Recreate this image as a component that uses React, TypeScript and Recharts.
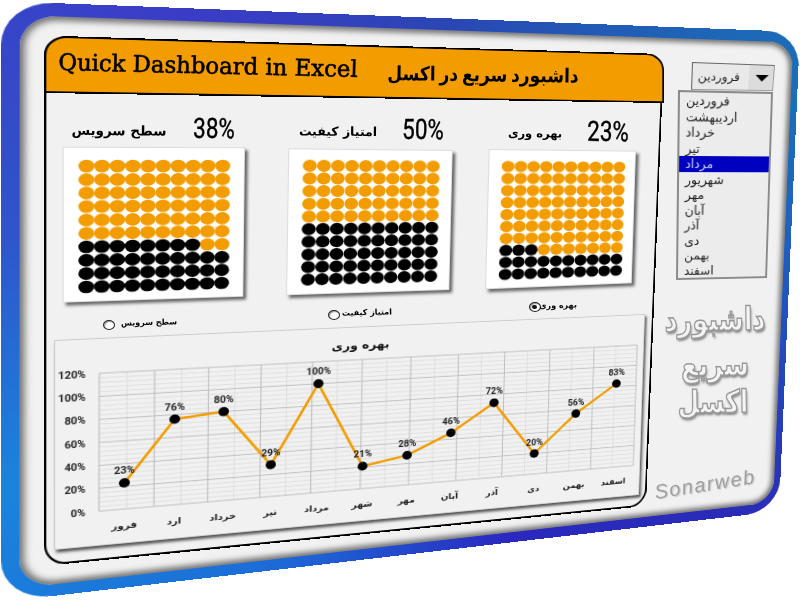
import React from "react";
import { LineChart, Line, XAxis, YAxis, ReferenceLine, LabelList, ScatterChart, Scatter } from "recharts";

const axisMonths = ["فرور", "ارد", "خرداد", "تیر", "مرداد", "شهر", "مهر", "آبان", "آذر", "دی", "بهمن", "اسفند"];
const productivity = [23, 76, 80, 29, 100, 21, 28, 46, 72, 20, 56, 83];
const yTicks = [0, 20, 40, 60, 80, 100, 120];
const minorY = [4, 8, 12, 16, 24, 28, 32, 36, 44, 48, 52, 56, 64, 68, 72, 76, 84, 88, 92, 96, 104, 108, 112, 116];
const majorX = [0, 1, 2, 3, 4, 5, 6, 7, 8, 9, 10, 11, 12];
const minorX = [0.5, 1.5, 2.5, 3.5, 4.5, 5.5, 6.5, 7.5, 8.5, 9.5, 10.5, 11.5];
const listMonths = ["فروردین", "اردیبهشت", "خرداد", "تیر", "مرداد", "شهریور", "مهر", "آبان", "آذر", "دی", "بهمن", "اسفند"];
const servicePct = 38;
const qualityPct = 50;
const productivityPct = 23;

const ORANGE = "#f39c00";
const FONT = "Roboto, 'DejaVu Sans', sans-serif";
const AR = "'DejaVu Sans', sans-serif";
type P = [number, number];

function matrix(w: number, h: number, q: P[]) {
  const [[x0, y0], [x1, y1], [x2, y2], [x3, y3]] = q;
  const dx1 = x1 - x2, dx2 = x3 - x2, sx = x0 - x1 + x2 - x3;
  const dy1 = y1 - y2, dy2 = y3 - y2, sy = y0 - y1 + y2 - y3;
  const det = dx1 * dy2 - dx2 * dy1;
  const g = (sx * dy2 - dx2 * sy) / det;
  const k = (dx1 * sy - sx * dy1) / det;
  const a = x1 - x0 + g * x1, b = x3 - x0 + k * x3;
  const d = y1 - y0 + g * y1, e = y3 - y0 + k * y3;
  return `matrix3d(${a / w},${d / w},0,${g / w},${b / h},${e / h},0,${k / h},0,0,1,0,${x0},${y0},0,1)`;
}

function Warp({ w, h, q, style, children }: any) {
  return (
    <div style={{ position: "absolute", left: 0, top: 0, width: w, height: h, boxSizing: "border-box", transformOrigin: "0 0", transform: matrix(w, h, q), ...style }}>
      {children}
    </div>
  );
}

function Txt({ x, y, size, rot = 0, sx = 1, sy = 1, font = AR, weight = 700, color = "#000", style, children }: any) {
  return (
    <div style={{ position: "absolute", left: x, top: y, whiteSpace: "nowrap", fontFamily: font, fontSize: size, fontWeight: weight, color, lineHeight: 1, transform: `translate(-50%,-50%) rotate(${rot}deg) scale(${sx},${sy})`, ...style }}>
      {children}
    </div>
  );
}

function waffleCells(pct: number, filled: boolean) {
  const out: { c: number; r: number }[] = [];
  for (let r = 0; r < 10; r++) for (let c = 0; c < 10; c++) {
    if ((r * 10 + c + 1 <= pct) === filled) out.push({ c, r });
  }
  return out;
}

function Waffle({ w, h, q, pct, margin, rx, ry }: any) {
  const dot = (fill: string) => (p: any) => <ellipse cx={p.cx} cy={p.cy} rx={rx} ry={ry} fill={fill} />;
  return (
    <Warp w={w} h={h} q={q} style={{ background: "#fff", boxShadow: "3px 3px 3px #666", border: "1px solid #ddd" }}>
      <ScatterChart width={w - 2} height={h - 2} margin={margin}>
        <XAxis type="number" dataKey="c" domain={[0, 9]} hide />
        <YAxis type="number" dataKey="r" domain={[0, 9]} hide width={0} />
        <Scatter data={waffleCells(pct, false)} fill={ORANGE} shape={dot(ORANGE)} isAnimationActive={false} />
        <Scatter data={waffleCells(pct, true)} fill="#000" shape={dot("#000")} isAnimationActive={false} />
      </ScatterChart>
    </Warp>
  );
}

function Radio({ x, y, on }: any) {
  return (
    <div style={{ position: "absolute", left: x - 6, top: y - 5, width: 12, height: 10, borderRadius: "50%", border: "1.3px solid #222", boxSizing: "border-box", background: "#fff", boxShadow: "inset 1px 1px 1px #999" }}>
      {on && <div style={{ position: "absolute", left: 2.4, top: 1.6, width: 5, height: 4.5, borderRadius: "50%", background: "#111" }} />}
    </div>
  );
}

const lineData = axisMonths.map((m, i) => ({ month: m, value: productivity[i] }));

function ProductivityChart() {
  const w = 600, h = 220;
  const ids = { xAxisId: "grid", yAxisId: "v" };
  return (
    <Warp w={w} h={h} q={[[54, 340], [645, 314], [639, 495], [54, 550]]} style={{ background: "#f1f1f1", boxShadow: "2px 3px 3px #555", border: "1px solid #ccc" }}>
      <div style={{ position: "absolute", left: 0, right: 22, top: 12, textAlign: "center", fontFamily: AR, fontWeight: 700, fontSize: 12.5, color: "#111" }}>بهره وری</div>
      <LineChart width={w - 2} height={h - 2} data={lineData} margin={{ top: 36, right: 7, bottom: 0, left: 0 }}>
        <XAxis xAxisId="grid" type="number" domain={[0, 12]} hide />
        <XAxis xAxisId="cat" dataKey="month" scale="band" interval={0} height={36} axisLine={false} tickLine={false} tickMargin={8}
          tick={{ fontFamily: AR, fontWeight: 700, fontSize: 9.5, fill: "#222" }} />
        <YAxis yAxisId="v" domain={[0, 120]} ticks={yTicks} width={39} axisLine={false} tickLine={false} tickMargin={6}
          tickFormatter={(v: number) => `${v}%`} tick={{ fontFamily: FONT, fontWeight: 700, fontSize: 10, fill: "#222" }} />
        {minorY.map((v) => <ReferenceLine key={`my${v}`} {...ids} y={v} stroke="#dadada" strokeWidth={0.8} />)}
        {minorX.map((v) => <ReferenceLine key={`mx${v}`} {...ids} x={v} stroke="#dadada" strokeWidth={0.8} />)}
        {yTicks.map((v) => <ReferenceLine key={`y${v}`} {...ids} y={v} stroke="#bcbcbc" strokeWidth={1} />)}
        {majorX.map((v) => <ReferenceLine key={`x${v}`} {...ids} x={v} stroke="#bcbcbc" strokeWidth={1} />)}
        <Line xAxisId="cat" yAxisId="v" dataKey="value" stroke={ORANGE} strokeWidth={2.6} isAnimationActive={false}
          dot={{ r: 5, fill: "#000", stroke: "#000", strokeWidth: 0 }}>
          <LabelList dataKey="value" position="top" offset={10} formatter={(v: number) => `${v}%`}
            style={{ fontFamily: FONT, fontWeight: 700, fontSize: 10, fill: "#222" }} />
        </Line>
      </LineChart>
    </Warp>
  );
}

export default function App() {
  return (
    <div style={{ position: "absolute", left: 0, top: 0, width: 800, height: 600, overflow: "hidden", background: "#fff", filter: "blur(0.3px)" }}>
      {/* outer frame */}
      <Warp w={800} h={600} q={[[1, 1], [800, 32], [779, 511], [1, 602]]}
        style={{ borderRadius: 42, background: "conic-gradient(from 0deg at 50% 50%, #2a46b4 0deg, #1a70b8 60deg, #1f5fc0 85deg, #2a2cb8 130deg, #2a28c0 165deg, #1c6cd8 210deg, #1a84dc 245deg, #2f55cc 280deg, #3b3cc6 320deg, #2a46b4 360deg)" }}>
        <div style={{ position: "absolute", left: 15, top: 13, right: 8, bottom: 12, borderRadius: 30, background: "#f1f1f1", boxShadow: "inset 0 0 6px 4px #707070" }} />
      </Warp>

      {/* main panel */}
      <Warp w={620} h={500} q={[[44, 35.5], [664, 54], [646, 506], [44, 566]]}
        style={{ border: "2px solid #000", borderRadius: 20, background: "#f1f1f1" }} />
      <Warp w={620} h={60} q={[[44, 35.5], [664, 54], [664, 103], [44, 93]]}
        style={{ border: "2px solid #000", borderRadius: "20px 20px 0 0", background: ORANGE }} />
      <Txt x={208} y={66} size={23} sx={0.99} font="'DejaVu Serif', serif" rot={1.3} weight={400} style={{ WebkitTextStroke: "0.6px #000" }}>Quick Dashboard in Excel</Txt>
      <Txt x={483} y={75} size={17} sy={1.15} rot={0.8} style={{ wordSpacing: -2 }}>داشبورد سریع در اکسل</Txt>

      {/* KPI headers */}
      <Txt x={214} y={129} size={28} sx={0.8} font={FONT} weight={400} rot={1} style={{ WebkitTextStroke: "0.4px #000" }}>{servicePct}%</Txt>
      <Txt x={119} y={131} size={13.5} rot={0.5}>سطح سرویس</Txt>
      <Txt x={423} y={130} size={28} sx={0.8} font={FONT} weight={400} rot={1} style={{ WebkitTextStroke: "0.4px #000" }}>{qualityPct}%</Txt>
      <Txt x={338} y={132} size={12.5} rot={0.5}>امتیاز کیفیت</Txt>
      <Txt x={608} y={132} size={28} sx={0.8} font={FONT} weight={400} rot={1} style={{ WebkitTextStroke: "0.4px #000" }}>{productivityPct}%</Txt>
      <Txt x={535} y={134} size={11.5} rot={0.5}>بهره وری</Txt>

      {/* waffles */}
      <Waffle w={183} h={154} pct={servicePct} rx={7.8} ry={6.3} margin={{ top: 18, bottom: 14, left: 22, right: 22 }}
        q={[[62.7, 146.7], [245, 147.3], [243.3, 296.7], [62.7, 302.7]]} />
      <Waffle w={165} h={145} pct={qualityPct} rx={6.8} ry={6} margin={{ top: 16, bottom: 14, left: 20, right: 19 }}
        q={[[288.3, 148.3], [452.7, 150], [449.3, 290], [286, 295.3]]} />
      <Waffle w={148} h={138} pct={productivityPct} rx={6.2} ry={5.6} margin={{ top: 16, bottom: 13, left: 18, right: 16 }}
        q={[[488.7, 149], [636, 150.7], [631.7, 283.3], [485, 289.3]]} />

      {/* radios */}
      <Radio x={109} y={325} />
      <Txt x={149} y={323} size={8} rot={-1.5}>سطح سرویس</Txt>
      <Radio x={334} y={315} />
      <Txt x={367} y={313} size={8} rot={-1.5}>امتیاز کیفیت</Txt>
      <Radio x={535} y={307} on />
      <Txt x={558} y={306} size={8} rot={-1.5}>بهره وری</Txt>

      <ProductivityChart />

      {/* drop down */}
      <Warp w={84} h={28} q={[[692, 62], [775, 65], [773, 91], [691, 90]]}
        style={{ background: "#e9e9e9", borderTop: "1.5px solid #666", borderLeft: "1.5px solid #666", borderRight: "1px solid #999", borderBottom: "1px solid #999" }}>
        <div style={{ position: "absolute", left: 56, top: 0, right: 0, bottom: 0, background: "#dcdcdc" }} />
        <div style={{ position: "absolute", left: 63, top: 10, width: 0, height: 0, borderLeft: "7px solid transparent", borderRight: "7px solid transparent", borderTop: "7px solid #000" }} />
        <div style={{ position: "absolute", left: 5, top: 6, fontFamily: AR, fontSize: 12, color: "#222" }}>فروردین</div>
      </Warp>
      <Warp w={95} h={190} q={[[678, 90], [773, 92], [767, 278], [676, 280]]}
        style={{ background: "#ececec", border: "2px solid #8a8a8a", overflow: "hidden" }}>
        {listMonths.map((m, i) => (
          <div key={m} style={{ height: 15.5, lineHeight: "15.5px", fontFamily: AR, fontSize: 12.5, paddingLeft: 6, direction: "ltr", textAlign: "left", color: i === 4 ? "#c8c8ff" : "#222", background: i === 4 ? "#0000c0" : "transparent" }}>{m}</div>
        ))}
      </Warp>

      {/* side caption */}
      {[["داشبورد", 715, 320, 25.5], ["سریع", 715, 365, 25.5], ["اکسل", 713, 402, 25]].map(([t, x, y, s]: any) => (
        <Txt key={t} x={x} y={y} size={s} sy={1.25} rot={-1} color="#f4f4f4" style={{ WebkitTextStroke: "1.2px #9a9a9a", textShadow: "1px 2px 2px #888" }}>{t}</Txt>
      ))}
      <Txt x={705} y={484} size={20} rot={-9} color="#a0a0a0" font="'Liberation Sans', sans-serif" weight={400} style={{ fontStyle: "italic", letterSpacing: 1.5, textShadow: "1px 1px 1px #ccc" }}>Sonarweb</Txt>
    </div>
  );
}
